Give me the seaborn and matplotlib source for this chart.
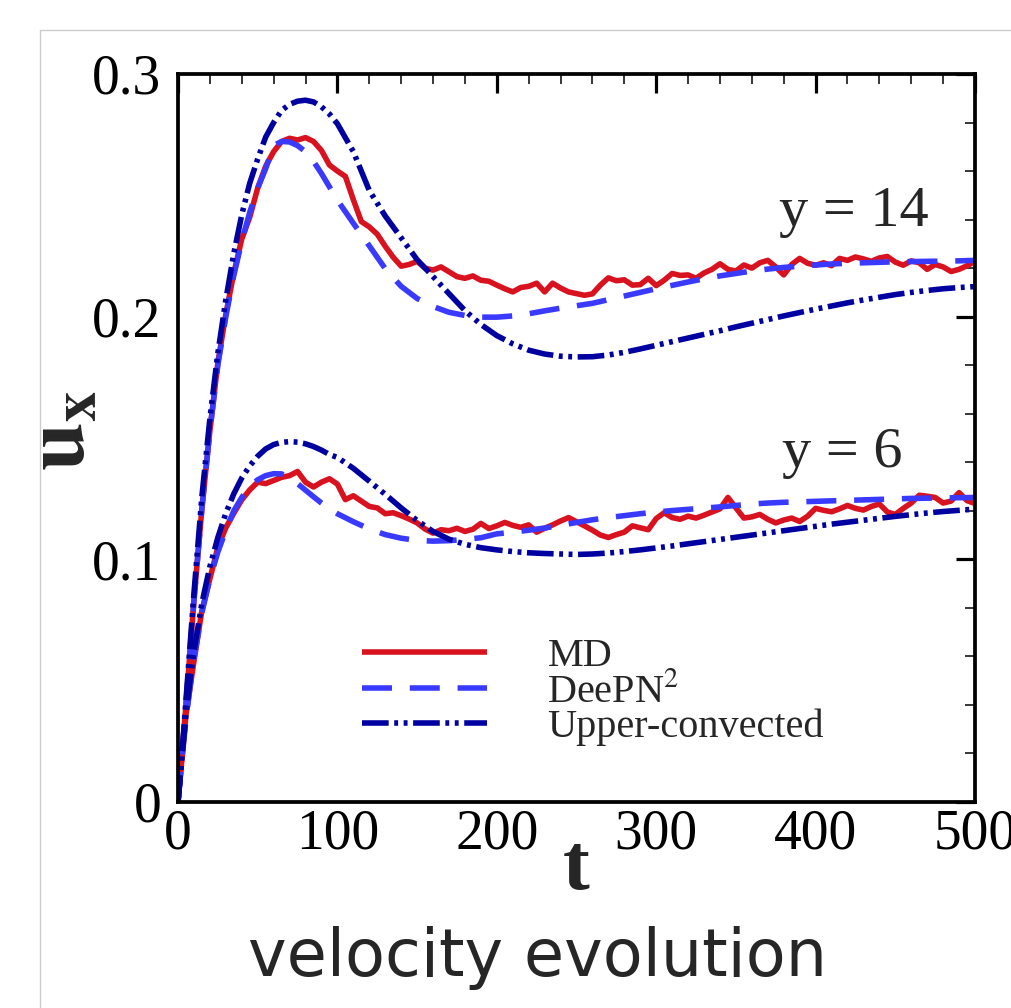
import numpy as np
import pandas as pd
import matplotlib
matplotlib.use("Agg")
import matplotlib.pyplot as plt
from matplotlib.lines import Line2D
from matplotlib.ticker import MultipleLocator
import seaborn as sns

# ---------------- data ----------------
t_md = list(np.arange(0, 501, 5))

md14 = [0.000, 0.040, 0.083, 0.121, 0.153, 0.181, 0.201, 0.218, 0.232, 0.241,
        0.253, 0.262, 0.268, 0.2722, 0.2735, 0.2728, 0.2738, 0.2722, 0.2685, 0.2625,
        0.2600, 0.2578, 0.2482, 0.2392, 0.2370, 0.2340, 0.2290, 0.2245, 0.2208, 0.2215,
        0.2228, 0.2200, 0.2192, 0.2205, 0.2185, 0.2165, 0.2158, 0.2168, 0.2150, 0.2146,
        0.2130, 0.2115, 0.2102, 0.2120, 0.2125, 0.2138, 0.2102, 0.2138, 0.2118, 0.2102,
        0.2095, 0.2088, 0.2094, 0.2130, 0.2160, 0.2148, 0.2152, 0.2130, 0.2132, 0.2158,
        0.2128, 0.2150, 0.2178, 0.2170, 0.2172, 0.2158, 0.2180, 0.2195, 0.2218, 0.2195,
        0.2188, 0.2213, 0.2200, 0.2222, 0.2232, 0.2205, 0.2172, 0.2215, 0.2240, 0.2220,
        0.2212, 0.2222, 0.2210, 0.2240, 0.2232, 0.2246, 0.2238, 0.2228, 0.2242, 0.2248,
        0.2225, 0.2212, 0.2230, 0.2222, 0.2195, 0.2215, 0.2205, 0.2186, 0.2195, 0.2210,
        0.2228]

md6 = [0.000, 0.036, 0.058, 0.079, 0.092, 0.105, 0.113, 0.119, 0.1245, 0.1286,
       0.1318, 0.1312, 0.1325, 0.1338, 0.1345, 0.1362, 0.1318, 0.1298, 0.1318, 0.1332,
       0.1310, 0.1246, 0.1262, 0.1240, 0.1218, 0.1212, 0.1188, 0.1192, 0.1180, 0.1166,
       0.1150, 0.1125, 0.1108, 0.1122, 0.1118, 0.1128, 0.1115, 0.1124, 0.1148, 0.1127,
       0.1138, 0.1152, 0.1140, 0.1132, 0.1142, 0.1112, 0.1128, 0.1142, 0.1158, 0.1172,
       0.1155, 0.1138, 0.1120, 0.1100, 0.1090, 0.1102, 0.1112, 0.1138, 0.1130, 0.1122,
       0.1168, 0.1192, 0.1172, 0.1165, 0.1178, 0.1170, 0.1182, 0.1195, 0.1208, 0.1255,
       0.1212, 0.1170, 0.1175, 0.1185, 0.1165, 0.1150, 0.1162, 0.1170, 0.1156, 0.1178,
       0.1210, 0.1202, 0.1196, 0.1208, 0.1222, 0.1210, 0.1203, 0.1218, 0.1228, 0.1195,
       0.1185, 0.1210, 0.1232, 0.1264, 0.1260, 0.1255, 0.1232, 0.1240, 0.1275, 0.1242,
       0.1230]

t_sm = [0, 2.5, 5, 7.5, 10, 15, 20, 25, 30, 35, 40, 45, 50, 55, 60, 65, 70, 75, 80, 85,
        90, 95, 100, 110, 120, 130, 140, 150, 160, 170, 180, 190, 200, 210, 220, 230,
        240, 250, 260, 270, 280, 290, 300, 310, 320, 330, 340, 350, 360, 370, 380, 390,
        400, 410, 420, 430, 440, 450, 460, 470, 480, 490, 500]

dp14 = [0.0, 0.019, 0.040, 0.061, 0.083, 0.121, 0.153, 0.180, 0.200, 0.217, 0.231, 0.243,
        0.253, 0.261, 0.2705, 0.2722, 0.2720, 0.2705, 0.2680, 0.2640, 0.2590, 0.2535,
        0.2480, 0.2385, 0.2292, 0.2198, 0.2125, 0.2075, 0.2042, 0.2018, 0.2005, 0.1998,
        0.1998, 0.2003, 0.2012, 0.2024, 0.2035, 0.2045, 0.2055, 0.2070, 0.2085, 0.2100,
        0.2115, 0.2129, 0.2143, 0.2156, 0.2168, 0.2178, 0.2188, 0.2196, 0.2203, 0.2208,
        0.2213, 0.2217, 0.2220, 0.2222, 0.2224, 0.2226, 0.2227, 0.2228, 0.2229, 0.2230,
        0.2232]

uc14 = [0.0, 0.020, 0.042, 0.064, 0.086, 0.126, 0.158, 0.185, 0.207, 0.226, 0.242, 0.255,
        0.265, 0.274, 0.280, 0.285, 0.2875, 0.2888, 0.2892, 0.2885, 0.2865, 0.2835,
        0.2795, 0.2680, 0.2520, 0.2415, 0.2325, 0.2235, 0.2165, 0.2095, 0.2025, 0.1968,
        0.1922, 0.1888, 0.1862, 0.1846, 0.1837, 0.1834, 0.1835, 0.1842, 0.1853, 0.1867,
        0.1882, 0.1897, 0.1912, 0.1927, 0.1942, 0.1958, 0.1973, 0.1988, 0.2003, 0.2017,
        0.2031, 0.2044, 0.2057, 0.2069, 0.2080, 0.2091, 0.2100, 0.2108, 0.2115, 0.2120,
        0.2124]

dp6 = [0.0, 0.018, 0.034, 0.047, 0.059, 0.078, 0.092, 0.103, 0.112, 0.120, 0.1255, 0.1300,
       0.1328, 0.1345, 0.1353, 0.1352, 0.1335, 0.1312, 0.1285, 0.1258, 0.1232, 0.1208,
       0.1188, 0.1155, 0.1125, 0.1102, 0.1087, 0.1078, 0.1075, 0.1077, 0.1082, 0.1089,
       0.1105, 0.1112, 0.1120, 0.1129, 0.1140, 0.1152, 0.1163, 0.1172, 0.1180, 0.1188,
       0.1195, 0.1201, 0.1206, 0.1211, 0.1216, 0.1222, 0.1228, 0.1232, 0.1235, 0.1237,
       0.1239, 0.1241, 0.1243, 0.1245, 0.1247, 0.1249, 0.1251, 0.1252, 0.1253, 0.1254,
       0.1255]

uc6 = [0.0, 0.019, 0.036, 0.050, 0.062, 0.082, 0.097, 0.109, 0.119, 0.127, 0.1335, 0.1385,
       0.1425, 0.1455, 0.1473, 0.1482, 0.1485, 0.1483, 0.1476, 0.1465, 0.1450, 0.1432,
       0.1420, 0.1375, 0.1322, 0.1268, 0.1212, 0.1160, 0.1115, 0.1083, 0.1062, 0.1048,
       0.1039, 0.1032, 0.1027, 0.1024, 0.1022, 0.1020, 0.1022, 0.1026, 0.1032, 0.1039,
       0.1047, 0.1055, 0.1064, 0.1073, 0.1082, 0.1091, 0.1100, 0.1109, 0.1118, 0.1127,
       0.1136, 0.1145, 0.1153, 0.1161, 0.1169, 0.1177, 0.1184, 0.1191, 0.1197, 0.1202,
       0.1207]

series_labels = ["MD", "DeePN$^2$", "Upper-convected"]
x_ticks = [0, 100, 200, 300, 400, 500]
y_ticks = [0, 0.1, 0.2, 0.3]
y_tick_labels = ["0", "0.1", "0.2", "0.3"]
x_tick_labels = ["0", "100", "200", "300", "400", "500"]

# ---------------- style ----------------
sns.set_style("white")
plt.rcParams["font.family"] = ["Liberation Serif", "DejaVu Serif"]
plt.rcParams["mathtext.fontset"] = "stix"

RED = "#d8121f"
BLUE = "#3a3aff"
NAVY = "#0000a0"
LW = 4.0
ls_dash = (0, (5.4, 3.2))
ls_dd = (0, (4.8, 1.0, 0.7, 1.0, 0.7, 1.0))

fig = plt.figure(figsize=(10.11, 10.08), dpi=100)
ax = fig.add_axes([178 / 1011, 1 - 802 / 1008, (975 - 178) / 1011, (802 - 74) / 1008])

styles = []
sns.lineplot(x=t_md, y=md14, ax=ax, color=RED, linewidth=LW, label=series_labels[0])
styles.append("-")
sns.lineplot(x=t_md, y=md6, ax=ax, color=RED, linewidth=LW, label="_nolegend_")
styles.append("-")
sns.lineplot(x=t_sm, y=dp14, ax=ax, color=BLUE, linewidth=LW, linestyle=ls_dash,
             label=series_labels[1])
styles.append(ls_dash)
sns.lineplot(x=t_sm, y=dp6, ax=ax, color=BLUE, linewidth=LW, linestyle=ls_dash,
             label="_nolegend_")
styles.append(ls_dash)
sns.lineplot(x=t_sm, y=uc14, ax=ax, color=NAVY, linewidth=LW, linestyle=ls_dd,
             label=series_labels[2])
styles.append(ls_dd)
sns.lineplot(x=t_sm, y=uc6, ax=ax, color=NAVY, linewidth=LW, linestyle=ls_dd,
             label="_nolegend_")
styles.append(ls_dd)

for ln, st in zip(ax.get_lines(), styles):
    ln.set_linewidth(LW)
    ln.set_linestyle(st)
    ln.set_solid_capstyle("butt")
    ln.set_dash_capstyle("butt")

ax.set_xlim(0, 500)
ax.set_ylim(0, 0.3)
ax.set_xticks(x_ticks)
ax.set_xticklabels(x_tick_labels)
ax.set_yticks(y_ticks)
ax.set_yticklabels(y_tick_labels)
ax.xaxis.set_minor_locator(MultipleLocator(20))
ax.yaxis.set_minor_locator(MultipleLocator(0.02))
ax.tick_params(which="both", direction="in", top=True, right=True, labelsize=40,
               colors="black")
ax.tick_params(which="major", length=13.5, width=2.3)
ax.tick_params(which="minor", length=7.5, width=1.1)
ax.tick_params(axis="y", which="major", pad=12)
ax.tick_params(axis="x", which="major", pad=5)
for s in ax.spines.values():
    s.set_linewidth(2.7)
    s.set_color("black")
ax.grid(False)

ax.set_xlabel("t", fontsize=58, fontweight="bold")
ax.xaxis.set_label_coords(0.5, -0.043)
ax.set_ylabel(r"$\mathbf{u}_\mathbf{x}$", fontsize=62)
ax.yaxis.set_label_coords(-0.092, 0.51)

ax.text(377, 0.243, "y = 14", fontsize=42, va="center", ha="left")
ax.text(379, 0.144, "y = 6", fontsize=42, va="center", ha="left")

leg = ax.legend(loc="upper left", bbox_to_anchor=(0.231, 0.226), frameon=False,
                fontsize=29, handlelength=3.1, handletextpad=1.5, labelspacing=-0.05,
                borderpad=0, borderaxespad=0)
for h in leg.legend_handles:
    h.set_linewidth(LW)
    h.set_dash_capstyle("butt")

fig.text(538 / 1011, 1 - 958 / 1008, "velocity evolution", fontsize=47,
         family=["DejaVu Sans"], ha="center", va="center")

fig.add_artist(Line2D([40 / 1011, 40 / 1011], [0, 1 - 30 / 1008],
                      transform=fig.transFigure, color="#cccccc", lw=1))
fig.add_artist(Line2D([40 / 1011, 1], [1 - 30 / 1008, 1 - 30 / 1008],
                      transform=fig.transFigure, color="#cccccc", lw=1))

fig.savefig("out.png", dpi=100)
